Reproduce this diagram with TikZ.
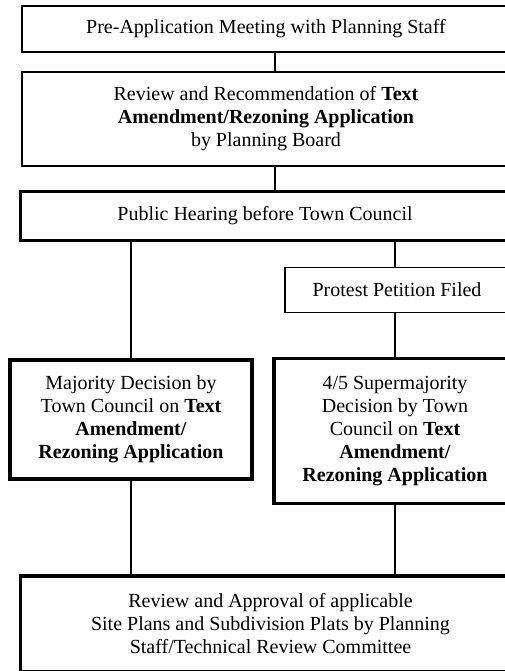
\documentclass[tikz,border=0pt]{standalone}
\usepackage{fontspec}
\setmainfont{Liberation Serif}

\begin{document}
\begin{tikzpicture}[x=1pt,y=-1pt]
            \tikzstyle{every node}+=[inner sep=0pt, align=center, font=\fontsize{20}{23}\selectfont]
            \tikzstyle{thinbox}=[draw, rectangle, line width=1.3pt]
            \tikzstyle{thickbox}=[draw, rectangle, line width=3.6pt]
            \tikzstyle{link}=[draw, line width=1.8pt]
            \useasboundingbox (0,0) rectangle (505,671);
            \clip (0,0) rectangle (505,671);
            % boxes run past the right edge
            \node [thinbox, minimum width=488pt, minimum height=46pt] (pre) at (266,29) {Pre-Application Meeting with Planning Staff};
            \node [thinbox, minimum width=488pt, minimum height=94pt] (rev) at (266,119) {Review and Recommendation of \textbf{Text}\\\textbf{Amendment/Rezoning Application}\\by Planning Board};
            \node [thickbox, minimum width=489pt, minimum height=49pt] (hear) at (265,216) {Public Hearing before Town Council};
            \node [thinbox, minimum width=224pt, minimum height=45pt] (prot) at (397,290) {Protest Petition Filed};
            \node [thickbox, minimum width=242pt, minimum height=119pt] (maj) at (131,419.5) {Majority Decision by\\Town Council on \textbf{Text}\\\textbf{Amendment/}\\\textbf{Rezoning Application}};
            \node [thickbox, minimum width=242pt, minimum height=145pt] (sup) at (395,431) {4/5 Supermajority\\Decision by Town\\Council on \textbf{Text}\\\textbf{Amendment/}\\\textbf{Rezoning Application}};
            \node [thickbox, minimum width=500pt, minimum height=96pt] (site) at (270.5,624) {Review and Approval of applicable\\Site Plans and Subdivision Plats by Planning\\Staff/Technical Review Committee};
            \coordinate (spine) at (275,0);
            % connectors
            \draw [link] (pre.south -| spine) -- (rev.north -| spine);
            \draw [link] (rev.south -| spine) -- (hear.north -| spine);
            \draw [link] (hear.south -| maj.north) -- (maj.north);
            \draw [link] (hear.south -| sup.north) -- (prot.north -| sup.north);
            \draw [link] (prot.south -| sup.north) -- (sup.north);
            \draw [link] (maj.south) -- (maj.south |- site.north);
            \draw [link] (sup.south) -- (sup.south |- site.north);
\end{tikzpicture}
\end{document}
